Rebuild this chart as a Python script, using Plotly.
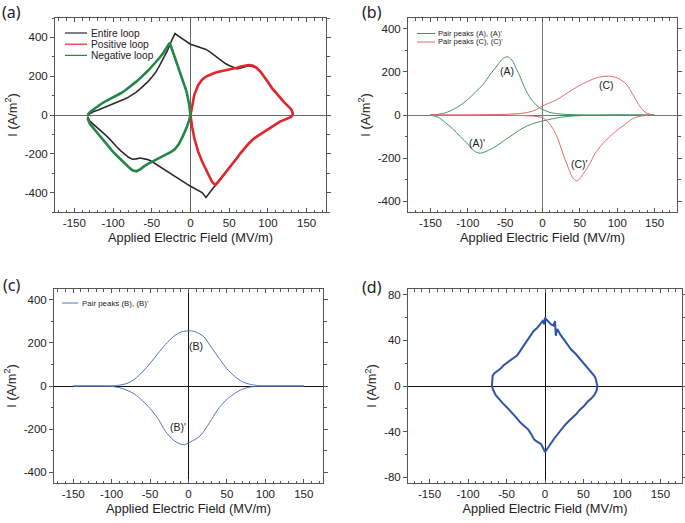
import plotly.graph_objects as go

# ---------------- data ----------------
# (a) entire loop (black): upper branch left->right, lower branch right->left
ent_up_x = [-133, -130, -125, -120, -115, -110, -105, -100, -95, -90, -85, -80, -75, -70, -65, -60, -55, -50,
            -45, -40, -35, -30, -25, -20, -15, -10, -5, 0, 5, 10, 15, 20, 25, 30, 35, 40, 45, 50, 55, 60,
            65, 70, 75, 80, 85, 90, 95, 100, 105, 110, 115, 120, 125, 130, 132]
ent_up_y = [0, 8, 18, 25, 33, 40, 48, 55, 63, 72, 82, 92, 103, 118, 135, 152, 172, 195,
            220, 255, 290, 330, 378, 420, 405, 392, 378, 365, 358, 350, 345, 338, 325, 310, 295, 280, 265, 255, 245, 238,
            242, 250, 254, 250, 242, 225, 200, 170, 140, 115, 90, 70, 50, 30, 10]
ent_lo_x = [132, 130, 125, 120, 115, 110, 105, 100, 95, 90, 85, 80, 75, 70, 65, 60, 55, 50, 45, 40, 35, 30,
            25, 20, 15, 10, 5, 0, -5, -10, -15, -20, -25, -30, -35, -40, -45, -50, -55, -60, -65, -70, -75,
            -80, -85, -90, -95, -100, -105, -110, -115, -120, -125, -130, -133]
ent_lo_y = [0, -10, -18, -25, -35, -48, -60, -75, -88, -100, -113, -128, -148, -170, -195, -222, -248, -275, -300, -325, -350, -372,
            -398, -425, -400, -390, -378, -367, -355, -342, -330, -318, -305, -292, -280, -265, -250, -240, -230, -224, -222, -226, -228,
            -218, -203, -185, -165, -142, -122, -102, -84, -67, -50, -32, -8]

# (a) positive loop (red)
pos_up_x = [0, 2, 5, 10, 15, 20, 25, 30, 35, 40, 45, 50, 55, 60, 65, 70, 75, 80, 85, 90, 95, 100, 105, 110,
            115, 120, 125, 130, 132]
pos_up_y = [0, 50, 105, 155, 182, 198, 208, 215, 222, 226, 232, 236, 240, 244, 250, 256, 258, 255, 245, 225, 200, 170, 140, 115,
            90, 70, 50, 30, 10]
pos_lo_x = [132, 130, 125, 120, 115, 110, 105, 100, 95, 90, 85, 80, 75, 70, 65, 60, 55, 50, 45, 40, 35, 32,
            28, 25, 20, 15, 10, 5, 2, 0]
pos_lo_y = [0, -10, -18, -25, -35, -48, -60, -75, -88, -100, -113, -128, -148, -170, -195, -222, -248, -275, -300, -325, -348, -360,
            -345, -322, -285, -240, -190, -120, -60, 0]

# (a) negative loop (green)
neg_up_x = [-133, -130, -125, -120, -115, -110, -105, -100, -95, -90, -85, -80, -75, -70, -65, -60, -55, -50,
            -45, -40, -35, -30, -27, -24, -20, -15, -10, -5, -2, 0]
neg_up_y = [0, 15, 30, 45, 58, 70, 80, 90, 100, 112, 125, 140, 155, 172, 190, 208, 228, 250,
            270, 295, 320, 350, 372, 340, 295, 240, 185, 120, 60, 0]
neg_lo_x = [0, -2, -5, -10, -15, -20, -25, -30, -35, -40, -45, -50, -55, -60, -65, -70, -75, -80, -85, -90,
            -95, -100, -105, -110, -115, -120, -125, -130, -133]
neg_lo_y = [0, -30, -65, -110, -150, -175, -190, -200, -210, -220, -230, -240, -252, -265, -280, -290, -285, -268, -250, -230,
            -210, -190, -165, -140, -115, -90, -70, -45, -15]

# (b) pair peaks (A),(A)'
a_up_x = [-150, -140, -130, -120, -110, -100, -90, -80, -70, -60, -55, -50, -47, -45, -40, -35, -30, -25, -20, -15,
          -10, -5, 0, 10, 20, 30, 50, 75, 100, 150]
a_up_y = [0, 3, 10, 25, 45, 72, 105, 140, 188, 232, 255, 268, 270, 268, 250, 215, 178, 135, 100, 72,
          52, 37, 26, 12, 6, 3, 1, 0, 0, 0]
a_lo_x = [-150, -140, -130, -120, -110, -100, -95, -90, -85, -80, -70, -60, -50, -40, -30, -20, -10, 0, 10, 20,
          30, 40, 50, 75, 100, 150]
a_lo_y = [0, -10, -35, -65, -100, -135, -155, -170, -177, -175, -160, -140, -115, -92, -68, -50, -37, -28, -20, -13,
          -8, -5, -3, -1, 0, 0]
# (b) pair peaks (C),(C)'
c_up_x = [-150, -100, -50, -30, -20, -10, 0, 10, 20, 30, 40, 50, 60, 70, 80, 90, 100, 110, 115, 120,
          125, 130, 135, 140, 145, 148]
c_up_y = [0, 0, 3, 7, 12, 22, 42, 57, 73, 95, 117, 138, 155, 170, 178, 180, 172, 150, 130, 100,
          70, 42, 20, 8, 2, 0]
c_lo_x = [148, 140, 130, 120, 110, 100, 90, 80, 70, 65, 60, 55, 50, 46, 42, 38, 34, 30, 25, 20,
          15, 10, 5, 0, -10, -30, -60, -100, -150]
c_lo_y = [0, -2, -6, -18, -45, -70, -100, -135, -180, -215, -245, -270, -295, -305, -297, -275, -240, -205, -155, -105,
          -70, -43, -25, -12, -6, -2, 0, 0, 0]

# (c) pair peaks (B),(B)'
b_up_x = [-150, -120, -100, -90, -80, -70, -60, -50, -40, -30, -20, -10, 0, 5, 10, 20, 30, 40, 50, 60,
          70, 80, 90, 100, 120, 150]
b_up_y = [0, 0, 1, 4, 12, 32, 65, 105, 150, 192, 228, 250, 256, 255, 250, 228, 178, 128, 80, 45,
          20, 8, 2, 0, 0, 0]
b_lo_x = [-150, -120, -100, -90, -80, -70, -60, -50, -40, -30, -20, -10, -5, 0, 10, 15, 20, 30, 40, 50,
          60, 70, 80, 90, 100, 150]
b_lo_y = [0, 0, -2, -8, -20, -38, -68, -104, -150, -210, -250, -270, -272, -264, -245, -232, -210, -155, -100, -62,
          -35, -15, -5, -1, 0, 0]

# (d) remaining loop
d_up_x = [-69, -68, -66, -62, -58, -54, -50, -45, -40, -36, -32, -28, -24, -19, -15, -10, -6, -3, -1, 0,
          2, 5, 8, 11, 13, 14, 16, 20, 25, 29, 34, 40, 45, 50, 55, 60, 64, 66, 68]
d_up_y = [0, 9, 11, 13, 15, 18, 20, 23, 25, 27, 31, 35, 39, 45, 48, 51, 55, 57, 54, 60,
          58, 56, 54, 53, 57, 44, 50, 45, 40, 37, 32, 28, 24, 20, 16, 12, 9, 6, 0]
d_lo_x = [68, 67, 64, 60, 55, 50, 45, 40, 35, 29, 25, 20, 15, 12, 8, 5, 2, 0, -2, -5,
          -10, -14, -18, -22, -27, -32, -37, -42, -49, -55, -60, -64, -67, -69]
d_lo_y = [0, -4, -8, -11, -14, -18, -21, -25, -28, -32, -35, -39, -43, -46, -50, -53, -56, -58, -55, -51,
          -49, -47, -42, -38, -35, -32, -28, -24, -19, -15, -11, -8, -4, 0]

x_tickvals = [-150, -100, -50, 0, 50, 100, 150]
x_ticktext = ["-150", "-100", "-50", "0", "50", "100", "150"]
y_tickvals_big = [-400, -200, 0, 200, 400]
y_ticktext_big = ["-400", "-200", "0", "200", "400"]
y_tickvals_d = [-80, -40, 0, 40, 80]
y_ticktext_d = ["-80", "-40", "0", "40", "80"]

peak_labels_b = ["(A)", "(A)'", "(C)", "(C)'"]
peak_lab_b_x = [-48, -88, 86, 49]
peak_lab_b_y = [205, -130, 137, -225]
peak_labels_c = ["(B)", "(B)'"]
peak_lab_c_x = [10, -14]
peak_lab_c_y = [185, -190]

legend_a_names = ["Entire loop", "Positive loop", "Negative loop"]
legend_a_colors = ["#2b2b2b", "#e3262c", "#23874a"]
legend_b_names = ["Pair peaks (A), (A)'", "Pair peaks (C), (C)'"]
legend_b_colors = ["#3e9460", "#e06a6e"]
legend_c_names = ["Pair peaks (B), (B)'"]
legend_c_colors = ["#5574b5"]

# ---------------- figure ----------------
W, H = 685, 523
FONT = "Liberation Sans, Arial, sans-serif"
fig = go.Figure()


def loop(ux, uy, lx, ly):
    return ux + lx, uy + ly


ex, ey = loop(ent_up_x, ent_up_y, ent_lo_x, ent_lo_y)
px_, py_ = loop(pos_up_x, pos_up_y, pos_lo_x, pos_lo_y)
nx_, ny_ = loop(neg_up_x, neg_up_y, neg_lo_x, neg_lo_y)
fig.add_trace(go.Scatter(x=ex, y=ey, mode="lines", name=legend_a_names[0],
                         line=dict(color=legend_a_colors[0], width=1.6), xaxis="x", yaxis="y"))
fig.add_trace(go.Scatter(x=px_, y=py_, mode="lines", name=legend_a_names[1],
                         line=dict(color=legend_a_colors[1], width=2.6), xaxis="x", yaxis="y"))
fig.add_trace(go.Scatter(x=nx_, y=ny_, mode="lines", name=legend_a_names[2],
                         line=dict(color=legend_a_colors[2], width=2.6), xaxis="x", yaxis="y"))

ax_, ay_ = a_up_x + a_lo_x[::-1], a_up_y + a_lo_y[::-1]
cx_, cy_ = c_up_x + c_lo_x, c_up_y + c_lo_y
fig.add_trace(go.Scatter(x=ax_, y=ay_, mode="lines", name=legend_b_names[0],
                         line=dict(color=legend_b_colors[0], width=1, shape="spline", smoothing=0.8),
                         xaxis="x2", yaxis="y2"))
fig.add_trace(go.Scatter(x=cx_, y=cy_, mode="lines", name=legend_b_names[1],
                         line=dict(color=legend_b_colors[1], width=1, shape="spline", smoothing=0.8),
                         xaxis="x2", yaxis="y2"))

bx_, by_ = b_up_x + b_lo_x[::-1], b_up_y + b_lo_y[::-1]
fig.add_trace(go.Scatter(x=bx_, y=by_, mode="lines", name=legend_c_names[0],
                         line=dict(color=legend_c_colors[0], width=1, shape="spline", smoothing=0.8),
                         xaxis="x3", yaxis="y3"))

dx_, dy_ = d_up_x + d_lo_x, d_up_y + d_lo_y
fig.add_trace(go.Scatter(x=dx_, y=dy_, mode="lines", name="remaining",
                         line=dict(color="#2d56a8", width=2.0), xaxis="x4", yaxis="y4"))


def px2x(p):
    return p / W


def px2y(p):
    return 1 - p / H


TICKF = dict(family=FONT, size=11.5, color="#222")
TITLEF = dict(family=FONT, size=12.8, color="#222")


def xaxis(dom, rng, anchor, zc):
    return dict(domain=dom, range=rng, anchor=anchor, showgrid=False, automargin=False,
                zeroline=True, zerolinecolor=zc, zerolinewidth=1.4,
                showline=True, linecolor="#555", linewidth=1, mirror="ticks",
                ticks="inside", ticklen=4, tickcolor="#555",
                tickvals=x_tickvals, ticktext=x_ticktext,
                minor=dict(dtick=10, ticks="inside", ticklen=2.5, tickcolor="#555"),
                tickfont=TICKF,
                title=dict(text="Applied Electric Field (MV/m)", standoff=5, font=TITLEF))


def yaxis(dom, rng, anchor, zc, tv, tt, minor):
    return dict(domain=dom, range=rng, anchor=anchor, showgrid=False, automargin=False,
                zeroline=True, zerolinecolor=zc, zerolinewidth=1.4,
                showline=True, linecolor="#555", linewidth=1, mirror="ticks",
                ticks="outside", ticklen=4, tickcolor="#555",
                tickvals=tv, ticktext=tt,
                minor=dict(dtick=minor, ticks="outside", ticklen=2.5, tickcolor="#555"),
                tickfont=TICKF,
                title=dict(text="I (A/m<sup>2</sup>)", standoff=4, font=TITLEF))


dom_xa = [px2x(55), px2x(326)]
dom_xb = [px2x(408), px2x(677)]
dom_xc = [px2x(54), px2x(323)]
dom_xd = [px2x(408), px2x(682)]
dom_ytop = [px2y(212), px2y(18)]
dom_ybot = [px2y(483), px2y(289)]

fig.update_layout(
    width=W, height=H, margin=dict(l=0, r=0, t=0, b=0), showlegend=False,
    paper_bgcolor="white", plot_bgcolor="white",
    font=dict(family=FONT, color="#222"),
    xaxis=xaxis(dom_xa, [-175, 175], "y", "#666"),
    yaxis=yaxis(dom_ytop, [-500, 500], "x", "#666", y_tickvals_big, y_ticktext_big, 100),
    xaxis2=xaxis(dom_xb, [-180, 180], "y2", "#777"),
    yaxis2=yaxis(dom_ytop, [-450, 450], "x2", "#777", y_tickvals_big, y_ticktext_big, 100),
    xaxis3=xaxis(dom_xc, [-175, 175], "y3", "#111"),
    yaxis3=yaxis(dom_ybot, [-450, 450], "x3", "#111", y_tickvals_big, y_ticktext_big, 100),
    xaxis4=xaxis(dom_xd, [-178, 178], "y4", "#111"),
    yaxis4=yaxis(dom_ybot, [-85, 85], "x4", "#111", y_tickvals_d, y_ticktext_d, 20),
)

for t, x, y in zip(peak_labels_b, peak_lab_b_x, peak_lab_b_y):
    fig.add_annotation(text=t, x=x, y=y, xref="x2", yref="y2", showarrow=False,
                       font=dict(family=FONT, size=10.5, color="#222"))
for t, x, y in zip(peak_labels_c, peak_lab_c_x, peak_lab_c_y):
    fig.add_annotation(text=t, x=x, y=y, xref="x3", yref="y3", showarrow=False,
                       font=dict(family=FONT, size=10.5, color="#222"))


# hand-made compact legends (sample line + text)
def legend(names, colors, x0, x1, xt, y0, dy, fsize, lw):
    for i, (n, c) in enumerate(zip(names, colors)):
        yy = px2y(y0 + i * dy)
        fig.add_shape(type="line", xref="paper", yref="paper", x0=px2x(x0), x1=px2x(x1), y0=yy, y1=yy,
                      line=dict(color=c, width=lw))
        fig.add_annotation(text=n, x=px2x(xt), y=yy, xref="paper", yref="paper", showarrow=False,
                           xanchor="left", yanchor="middle",
                           font=dict(family=FONT, size=fsize, color="#222"))


legend(legend_a_names, legend_a_colors, 65, 87, 89, 33, 11.2, 10.2, 1.2)
legend(legend_b_names, legend_b_colors, 417, 435, 436, 33.5, 8.5, 7.6, 1)
legend(legend_c_names, legend_c_colors, 62, 78, 80, 303, 9, 7.9, 1)

panel_labels = ["(a)", "(b)", "(c)", "(d)"]
panel_px = [(11, 12), (372, 12), (11, 285), (372, 287)]
for t, (lx, ly) in zip(panel_labels, panel_px):
    fig.add_annotation(text=t, x=px2x(lx), y=px2y(ly), xref="paper", yref="paper", showarrow=False,
                       xanchor="center", yanchor="middle",
                       font=dict(family="Noto Sans, Open Sans, sans-serif", size=16, color="#222"))

# drop the browser's default 8px page margin so the figure fills the window exactly
fig.write_html("out.html", config={"displayModeBar": False},
               post_script="document.body.style.margin='0';document.body.style.overflow='hidden';")
